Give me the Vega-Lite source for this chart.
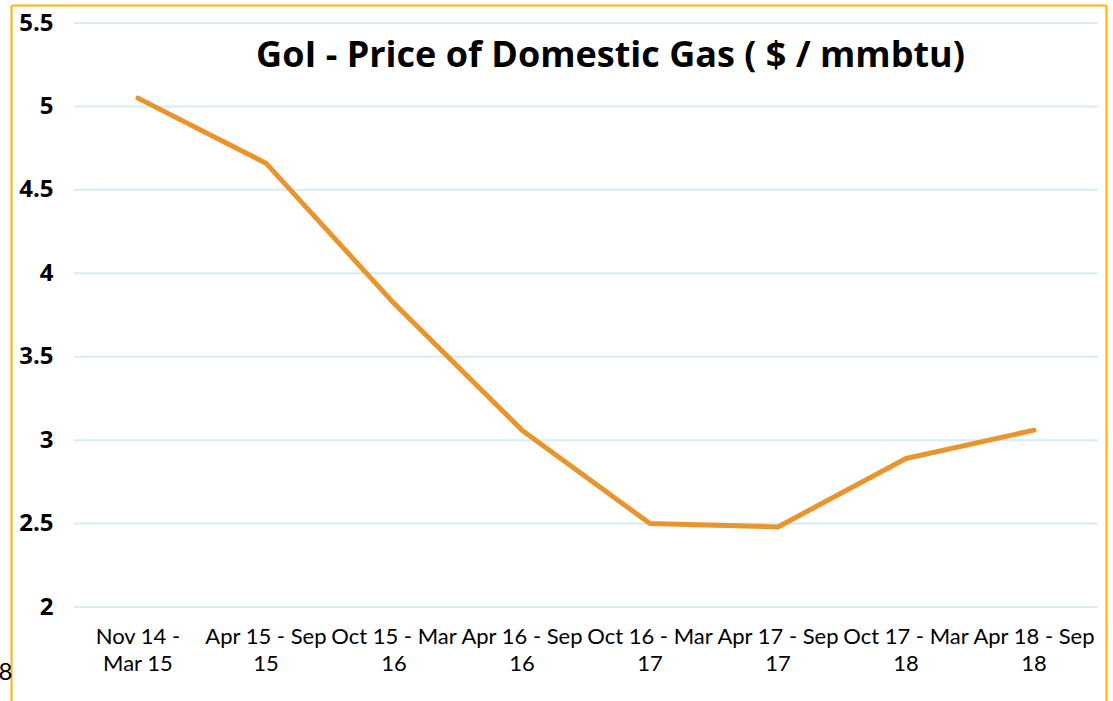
{
  "$schema": "https://vega.github.io/schema/vega-lite/v6.json",
  "width": 1095,
  "height": 696,
  "autosize": {"type": "none"},
  "padding": {"left": 11, "top": 5, "right": 7, "bottom": 0},
  "background": "#ffffff",
  "config": {"view": {"stroke": null}, "font": "Lato"},
  "title": {
    "text": "GoI - Price of Domestic Gas ( $ / mmbtu)",
    "font": "Open Sans",
    "fontSize": 36,
    "fontWeight": "bold",
    "color": "#000000",
    "anchor": "middle",
    "dx": 52,
    "offset": -70
  },
  "layer": [
    {
      "data": {"values": [{"g": 2}, {"g": 2.5}, {"g": 3}, {"g": 3.5}, {"g": 4}, {"g": 4.5}, {"g": 5}, {"g": 5.5}]},
      "mark": {"type": "rule", "color": "#D6ECF1", "strokeWidth": 2},
      "encoding": {
        "y": {
          "field": "g",
          "type": "quantitative",
          "scale": {"domain": [1.4367, 5.608], "nice": false, "zero": false},
          "axis": {"orient": "right", "labels": false, "ticks": false, "grid": false, "title": null, "domain": true, "domainColor": "#FFB300", "domainWidth": 2}
        },
        "x": {
          "datum": "Nov 14 - Mar 15",
          "type": "nominal",
          "bandPosition": 0,
          "scale": {
            "type": "band",
            "domain": ["Nov 14 - Mar 15", "Apr 15 - Sep 15", "Oct 15 - Mar 16", "Apr 16 - Sep 16", "Oct 16 - Mar 17", "Apr 17 - Sep 17", "Oct 17 - Mar 18", "Apr 18 - Sep 18"],
            "paddingInner": 0,
            "paddingOuter": 0.277,
            "align": 0.887
          },
          "axis": {"orient": "top", "labels": false, "ticks": false, "grid": false, "title": null, "domain": true, "domainColor": "#FFB300", "domainWidth": 2}
        },
        "x2": {"datum": "Apr 18 - Sep 18", "bandPosition": 1}
      }
    },
    {
      "data": {"values": [
        {"period": "Nov 14 - Mar 15", "price": 5.05},
        {"period": "Apr 15 - Sep 15", "price": 4.66},
        {"period": "Oct 15 - Mar 16", "price": 3.82},
        {"period": "Apr 16 - Sep 16", "price": 3.06},
        {"period": "Oct 16 - Mar 17", "price": 2.50},
        {"period": "Apr 17 - Sep 17", "price": 2.48},
        {"period": "Oct 17 - Mar 18", "price": 2.89},
        {"period": "Apr 18 - Sep 18", "price": 3.06}
      ]},
      "mark": {"type": "line", "color": "#E8952E", "strokeWidth": 5, "strokeCap": "round", "strokeJoin": "round"},
      "encoding": {
        "x": {
          "field": "period",
          "type": "nominal",
          "scale": {
            "type": "band",
            "domain": ["Nov 14 - Mar 15", "Apr 15 - Sep 15", "Oct 15 - Mar 16", "Apr 16 - Sep 16", "Oct 16 - Mar 17", "Apr 17 - Sep 17", "Oct 17 - Mar 18", "Apr 18 - Sep 18"],
            "paddingInner": 0,
            "paddingOuter": 0.277,
            "align": 0.887
          },
          "axis": {
            "orient": "bottom",
            "title": null,
            "domain": false,
            "ticks": false,
            "grid": false,
            "labelAngle": 0,
            "labelFont": "Lato",
            "labelFontSize": 22,
            "labelColor": "#000000",
            "labelLineHeight": 27,
            "labelPadding": -75,
            "labelOverlap": false,
            "labelBound": false,
            "labelFlush": false,
            "labelExpr": "datum.value == 'Nov 14 - Mar 15' ? ['Nov 14 -', 'Mar 15'] : [slice(datum.value, 0, -3), slice(datum.value, -2)]"
          }
        },
        "y": {
          "field": "price",
          "type": "quantitative",
          "scale": {"domain": [1.4367, 5.608], "nice": false, "zero": false},
          "axis": {
            "orient": "left",
            "title": "8",
            "titleAngle": 0,
            "titleX": -6,
            "titleY": 667,
            "titleAlign": "center",
            "titleBaseline": "middle",
            "titleFont": "Lato",
            "titleFontSize": 24,
            "titleFontWeight": "normal",
            "titleColor": "#000000",
            "values": [2, 2.5, 3, 3.5, 4, 4.5, 5, 5.5],
            "format": "~g",
            "grid": false,
            "ticks": false,
            "tickSize": 0,
            "domain": true,
            "domainColor": "#FFB300",
            "domainWidth": 2,
            "labelFont": "Open Sans",
            "labelFontSize": 24,
            "labelFontWeight": "bold",
            "labelColor": "#000000",
            "labelAlign": "right",
            "labelPadding": -42,
            "labelBound": false
          }
        }
      }
    }
  ],
  "resolve": {"axis": {"x": "independent", "y": "independent"}}
}
